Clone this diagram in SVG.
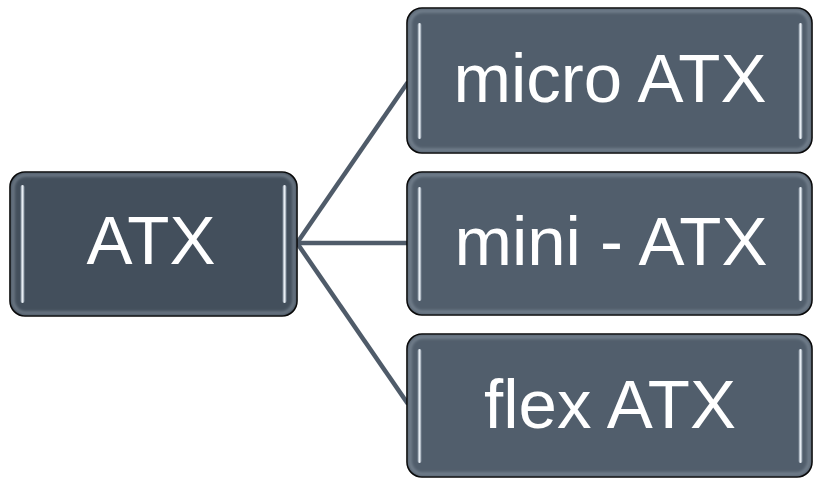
<svg xmlns="http://www.w3.org/2000/svg" width="813" height="478" viewBox="0 0 813 478">
<style>
.box{stroke:#000;stroke-width:1.6}
.rootbox{fill:#434f5c}
.child{fill:#515e6c}
.bevel{fill:none;stroke:#9aa6b2;stroke-width:3;opacity:0.55;filter:url(#soft)}
.hl{fill:url(#hlg);stroke:none}
.lbl{font-family:"Liberation Sans",Arial,sans-serif;font-size:69px;fill:#fff;text-anchor:middle}
.conn{stroke:#4f5b69;stroke-width:4.5;fill:none}
</style>
<defs>
<filter id="soft" x="-5%" y="-5%" width="110%" height="110%"><feGaussianBlur stdDeviation="1.6"/></filter>
<linearGradient id="hlg" x1="0" y1="0" x2="1" y2="0">
<stop offset="0" stop-color="#7f8c99"/>
<stop offset="0.5" stop-color="#e8eef4"/>
<stop offset="1" stop-color="#7f8c99"/>
</linearGradient>
</defs>
<g id="connectors">
<line class="conn" x1="297" y1="243" x2="408" y2="82"/>
<line class="conn" x1="297" y1="243" x2="408" y2="243"/>
<line class="conn" x1="297" y1="243" x2="408" y2="404"/>
</g>
<g id="node-atx">
<rect class="box rootbox" x="10" y="172" width="287" height="144" rx="15"/>
<rect class="bevel" x="13" y="175" width="281" height="138" rx="13"/>
<rect class="hl" x="20.5" y="185" width="4" height="118" rx="2"/>
<rect class="hl" x="282.5" y="185" width="4" height="118" rx="2"/>
<text class="lbl" x="151" y="264">ATX</text>
</g>
<g id="node-micro">
<rect class="box child" x="407" y="8" width="405" height="145" rx="15"/>
<rect class="bevel" x="410" y="11" width="399" height="139" rx="13"/>
<rect class="hl" x="417.5" y="23" width="4" height="116" rx="2"/>
<rect class="hl" x="798.5" y="23" width="4" height="116" rx="2"/>
<text class="lbl" x="610" y="102">micro ATX</text>
</g>
<g id="node-mini">
<rect class="box child" x="407" y="172" width="405" height="143" rx="15"/>
<rect class="bevel" x="410" y="175" width="399" height="137" rx="13"/>
<rect class="hl" x="417.5" y="187" width="4" height="114" rx="2"/>
<rect class="hl" x="798.5" y="187" width="4" height="114" rx="2"/>
<text class="lbl" x="611" y="265">mini - ATX</text>
</g>
<g id="node-flex">
<rect class="box child" x="407" y="334" width="405" height="143" rx="15"/>
<rect class="bevel" x="410" y="337" width="399" height="137" rx="13"/>
<rect class="hl" x="417.5" y="349" width="4" height="114" rx="2"/>
<rect class="hl" x="798.5" y="349" width="4" height="114" rx="2"/>
<text class="lbl" x="610" y="428">flex ATX</text>
</g>
</svg>
